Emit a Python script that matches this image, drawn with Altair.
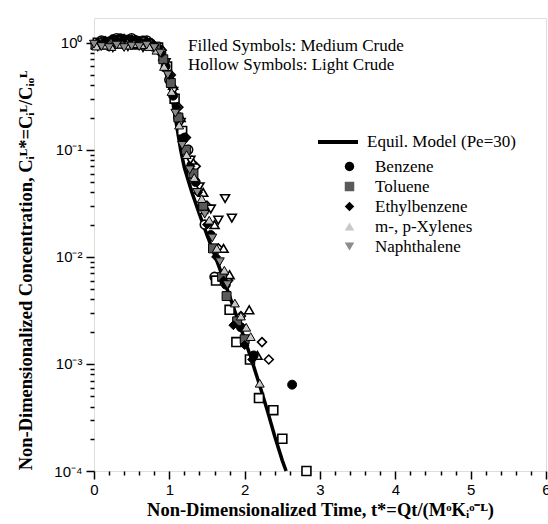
import altair as alt
import pandas as pd

# ---------------- data ----------------
species = ["Benzene", "Toluene", "Ethylbenzene", "m-, p-Xylenes", "Naphthalene"]
shapes = ["circle", "square", "diamond", "triangle-up", "triangle-down"]
fills = ["#000000", "#5a5a5a", "#000000", "#c8c8c8", "#8c8c8c"]

model_label = "Equil. Model (Pe=30)"
model_t = [0.0, 0.4, 0.6, 0.7, 0.8, 0.9, 1.0, 1.05, 1.1, 1.15, 1.2, 1.3, 1.4, 1.5, 1.6,
           1.7, 1.8, 1.9, 2.0, 2.1, 2.2, 2.3, 2.4, 2.5, 2.55]
model_c = [1.0, 1.0, 0.99, 0.97, 0.9, 0.72, 0.42, 0.27, 0.165, 0.1, 0.068, 0.04, 0.025,
           0.016, 0.0105, 0.0068, 0.0043, 0.0027, 0.0017, 0.00105, 0.00063, 0.00037,
           0.00021, 0.000125, 0.0001]

# Medium crude (filled symbols)
benz_med_t = [0.05, 0.15, 0.25, 0.35, 0.45, 0.55, 0.65, 0.75, 0.85, 0.95, 1.05, 1.2, 1.35, 1.55, 1.75, 1.95, 2.12, 2.63]
benz_med_c = [0.98, 1.02, 1.08, 1.1, 1.07, 1.06, 1.05, 1.0, 0.88, 0.6, 0.32, 0.13, 0.05, 0.016, 0.0055, 0.0022, 0.0012, 0.00064]
tol_med_t = [0.02, 0.12, 0.22, 0.32, 0.42, 0.52, 0.62, 0.72, 0.82, 0.92, 1.02, 1.12, 1.22, 1.32, 1.45, 1.58, 1.7, 1.76, 1.9, 2.0]
tol_med_c = [0.95, 1.0, 0.98, 1.03, 1.0, 0.97, 1.02, 0.97, 0.92, 0.7, 0.42, 0.2, 0.1, 0.06, 0.03, 0.012, 0.0065, 0.0043, 0.0025, 0.0017]
eth_med_t = [0.05, 0.15, 0.3, 0.4, 0.5, 0.6, 0.7, 0.8, 0.9, 1.0, 1.1, 1.18, 1.28, 1.38, 1.5, 1.62, 1.72, 1.85, 2.0, 2.1]
eth_med_c = [1.0, 1.05, 1.06, 1.1, 1.08, 1.05, 1.03, 0.95, 0.8, 0.5, 0.25, 0.12, 0.07, 0.04, 0.02, 0.01, 0.006, 0.0023, 0.0015, 0.0011]
xyl_med_t = [0.03, 0.13, 0.23, 0.33, 0.43, 0.53, 0.63, 0.73, 0.83, 0.93, 1.03, 1.13, 1.23, 1.33, 1.43, 1.53, 1.63, 1.73, 1.87, 1.95, 2.02, 2.08, 2.2]
xyl_med_c = [0.93, 0.95, 0.92, 0.97, 0.95, 0.98, 0.96, 0.92, 0.85, 0.6, 0.35, 0.17, 0.09, 0.055, 0.035, 0.022, 0.012, 0.0075, 0.0037, 0.0028, 0.0022, 0.0018, 0.00066]
nap_med_t = [0.0, 0.1, 0.2, 0.3, 0.4, 0.5, 0.6, 0.7, 0.8, 0.88, 0.98, 1.08, 1.17, 1.27, 1.37, 1.47, 1.57, 1.67, 1.77]
nap_med_c = [0.97, 0.92, 0.9, 0.95, 0.9, 0.93, 0.92, 0.95, 0.9, 0.8, 0.5, 0.22, 0.11, 0.065, 0.04, 0.025, 0.015, 0.009, 0.0055]

# Light crude (hollow symbols)
benz_lt_t = [0.1, 0.3, 0.5, 0.7, 0.88, 1.0, 1.12, 1.25, 1.47, 1.6]
benz_lt_c = [1.05, 1.1, 1.1, 1.05, 0.85, 0.45, 0.2, 0.1, 0.02, 0.0065]
tol_lt_t = [0.05, 0.25, 0.45, 0.65, 0.85, 0.97, 1.07, 1.17, 1.3, 1.45, 1.62, 1.8, 1.89, 2.07, 2.19, 2.38, 2.5, 2.82]
tol_lt_c = [1.0, 1.02, 1.0, 1.0, 0.9, 0.6, 0.3, 0.15, 0.06, 0.028, 0.006, 0.0032, 0.0016, 0.0011, 0.00048, 0.00037, 0.0002, 0.0001]
eth_lt_t = [0.1, 0.3, 0.5, 0.7, 0.9, 1.02, 1.12, 1.22, 1.35, 1.5, 1.65, 1.78, 1.95, 2.23, 2.32]
eth_lt_c = [1.02, 1.05, 1.05, 1.02, 0.85, 0.5, 0.25, 0.13, 0.07, 0.03, 0.012, 0.006, 0.0028, 0.0016, 0.0011]
xyl_lt_t = [0.15, 0.35, 0.55, 0.75, 0.92, 1.05, 1.15, 1.3, 1.45, 1.6, 1.72, 1.8, 2.06, 2.17]
xyl_lt_c = [0.95, 0.97, 0.95, 0.95, 0.75, 0.4, 0.2, 0.08, 0.04, 0.02, 0.012, 0.0068, 0.0032, 0.0012]
nap_lt_t = [0.05, 0.25, 0.45, 0.65, 0.85, 0.95, 1.05, 1.15, 1.28, 1.4, 1.55, 1.65, 1.74, 1.83]
nap_lt_c = [0.92, 0.9, 0.92, 0.9, 0.85, 0.65, 0.35, 0.18, 0.08, 0.045, 0.028, 0.022, 0.035, 0.023]

annotation_lines = ["Filled Symbols: Medium Crude", "Hollow Symbols: Light Crude"]
x_ticks = [round(i * 0.2, 1) for i in range(31)]
y_ticks = [m * 10.0 ** e for e in range(-4, 0) for m in range(1, 10)] + [1.0]
y_ticks = [float(f"{v:.6g}") for v in y_ticks]

# ---------------- tables ----------------
def frame(ts, cs, sp):
    return pd.DataFrame({"t": ts, "c": cs, "species": sp})

med = pd.concat([
    frame(benz_med_t, benz_med_c, species[0]),
    frame(tol_med_t, tol_med_c, species[1]),
    frame(eth_med_t, eth_med_c, species[2]),
    frame(xyl_med_t, xyl_med_c, species[3]),
    frame(nap_med_t, nap_med_c, species[4]),
])
light = pd.concat([
    frame(benz_lt_t, benz_lt_c, species[0]),
    frame(tol_lt_t, tol_lt_c, species[1]),
    frame(eth_lt_t, eth_lt_c, species[2]),
    frame(xyl_lt_t, xyl_lt_c, species[3]),
    frame(nap_lt_t, nap_lt_c, species[4]),
])
model = pd.DataFrame({"t": model_t, "c": model_c, "series": model_label})
notes = pd.DataFrame({"text": ["\n".join(annotation_lines)]})

SERIF = "Liberation Serif"
SANS = "Liberation Sans"

x_scale = alt.Scale(domain=[0, 6], nice=False, zero=False)
y_scale = alt.Scale(type="log", domain=[0.0001, 1.7], nice=False)

x_axis = alt.Axis(
    values=x_ticks,
    labelExpr="abs(datum.value - round(datum.value)) < 0.001 ? format(datum.value, 'd') : ''",
    labelOverlap=False, labelFlush=False,
    tickSize={"condition": {"test": "abs(datum.value - round(datum.value)) < 0.001", "value": 8}, "value": 4},
    tickWidth=1.5, tickColor="black", domain=False, grid=False,
    labelFont=SANS, labelFontSize=15, labelColor="black", labelPadding=3,
    title="Non-Dimensionalized Time, t*=Qt/(MᵒKᵢᵒ⁻ᴸ)",
    titleFont=SERIF, titleFontSize=18.5, titleFontWeight="bold", titleColor="black",
    titlePadding=3,
)
y_label_expr = ("datum.value == 1 ? '10⁰' : datum.value == 0.1 ? '10⁻¹' : "
                "datum.value == 0.01 ? '10⁻²' : datum.value == 0.001 ? '10⁻³' : "
                "datum.value == 0.0001 ? '10⁻⁴' : ''")
y_axis = alt.Axis(
    values=y_ticks,
    labelExpr=y_label_expr,
    labelOverlap=False, labelFlush=False,
    tickSize={"condition": {"test": "datum.value == 1 || datum.value == 0.1 || datum.value == 0.01 || datum.value == 0.001 || datum.value == 0.0001", "value": 8}, "value": 4},
    tickWidth=1.5, tickColor="black", domain=False, grid=False,
    labelFont=SANS, labelFontSize=15, labelColor="black", labelPadding=4,
    title="Non-Dimensionalized Concentration, Cᵢᴸ*=Cᵢᴸ/Cᵢₒᴸ",
    titleFont=SERIF, titleFontSize=18.5, titleFontWeight="bold", titleColor="black",
    titlePadding=18, titleY=252,
)

X = alt.X("t:Q", scale=x_scale, axis=x_axis)
Y = alt.Y("c:Q", scale=y_scale, axis=y_axis)

line = alt.Chart(model).mark_line(strokeWidth=3.5).encode(
    x=X, y=Y,
    color=alt.Color("series:N", scale=alt.Scale(domain=[model_label], range=["black"]),
                    legend=alt.Legend(orient="none", legendX=222, legendY=102, title=None,
                                      symbolType="stroke", symbolSize=1600, symbolStrokeWidth=4,
                                      labelFont=SERIF, labelFontSize=17, labelColor="black",
                                      labelOffset=7, padding=0)),
)

shape_scale = alt.Scale(domain=species, range=shapes)
shape_legend = alt.Legend(orient="none", legendX=247, legendY=140, title=None,
                          symbolSize=90, symbolStrokeColor="black", symbolStrokeWidth=1,
                          labelFont=SERIF, labelFontSize=17, labelColor="black",
                          labelOffset=17, rowPadding=2, padding=0)

pts_light = alt.Chart(light).mark_point(filled=True, fill="white", stroke="black",
                                        strokeWidth=1.6, size=80, opacity=1).encode(
    x=X, y=Y,
    shape=alt.Shape("species:N", scale=shape_scale, legend=shape_legend),
)
pts_med = alt.Chart(med).mark_point(filled=True, stroke="black", strokeWidth=1,
                                    size=80, opacity=1).encode(
    x=X, y=Y,
    shape=alt.Shape("species:N", scale=shape_scale, legend=shape_legend),
    fill=alt.Fill("species:N", scale=alt.Scale(domain=species, range=fills), legend=shape_legend),
)

text = alt.Chart(notes).mark_text(align="left", baseline="top", font=SERIF,
                                  fontSize=17, color="black", lineBreak="\n",
                                  lineHeight=19).encode(
    x=alt.value(94),
    y=alt.value(20),
    text="text:N",
)

chart = alt.layer(line, pts_light, pts_med, text).properties(
    width=452, height=453,
    padding={"left": 94, "top": 18, "right": 2, "bottom": 53},
    autosize="none",
).configure_view(stroke="black", strokeWidth=2.5).configure(background="white")

chart.save("out.html", embed_options={"renderer": "svg", "actions": False})
